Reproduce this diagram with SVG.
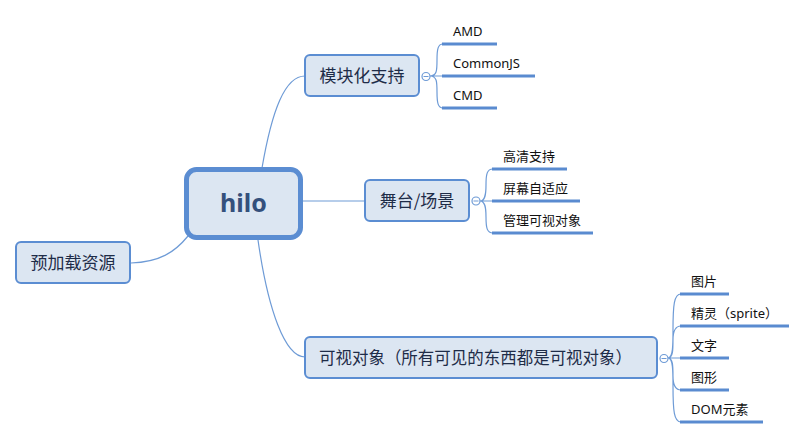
<svg xmlns="http://www.w3.org/2000/svg" width="807" height="439" viewBox="0 0 807 439">
<style>
.node rect{fill:#dce6f2;stroke:#5b8dd2;stroke-width:2}
.root rect{fill:#dce6f2;stroke:#5b8dd2;stroke-width:5}
.nt{font-family:"Noto Sans CJK SC","Noto Sans",sans-serif;font-size:17px;fill:#1e2c48;text-anchor:middle}
.rt{font-family:"Noto Sans","Open Sans",sans-serif;font-size:25px;font-weight:bold;fill:#34507c;text-anchor:middle}
.lt{font-family:"Noto Sans","Noto Sans CJK SC",sans-serif;font-size:13px;fill:#111}
.conn path{fill:none;stroke:#6e9bd6;stroke-width:1.2}
.ul{stroke:#5a8bd0;stroke-width:3}
.tog{fill:#fff;stroke:#6e9bd6;stroke-width:1.2}
</style>
<g id="connectors" class="conn">
<path d="M131 263 C160 262 175 252 188 236"/>
<path d="M262 168 C272 110 285 76 305 76"/>
<path d="M303 201 L365 201"/>
<path d="M258 240 C268 310 285 357 305 357"/>
<path d="M430 76 H442 M430 76 C437 76 437 70 437 60 C437 49 438 44 443 44 M430 76 C437 76 437 82 437 92 C437 103 438 108 443 108"/>
<path d="M480 201 H492 M480 201 C485 201 486 195 486 185 C486 174 487 169 493 169 M480 201 C485 201 486 207 486 217 C486 228 487 233 493 233"/>
<path d="M668 358 H681 M668 358 C673 358 673 345 673 330 C673 305 674 294 681 294 M668 358 C673 358 673 350 673 340 C673 331 675 326 681 326 M668 358 C673 358 673 366 673 376 C673 385 675 390 681 390 M668 358 C673 358 673 371 673 386 C673 411 674 422 681 422"/>
<g>
<line class="ul" x1="442" y1="44" x2="497" y2="44"/>
<line class="ul" x1="442" y1="76" x2="535" y2="76"/>
<line class="ul" x1="442" y1="108" x2="497" y2="108"/>
<line class="ul" x1="492" y1="169" x2="567" y2="169"/>
<line class="ul" x1="492" y1="201" x2="580" y2="201"/>
<line class="ul" x1="492" y1="233" x2="593" y2="233"/>
<line class="ul" x1="680" y1="294" x2="729" y2="294"/>
<line class="ul" x1="680" y1="326" x2="789" y2="326"/>
<line class="ul" x1="680" y1="358" x2="729" y2="358"/>
<line class="ul" x1="680" y1="390" x2="729" y2="390"/>
<line class="ul" x1="680" y1="422" x2="763" y2="422"/>
</g>
<circle class="tog" cx="426" cy="76.5" r="4"/>
<line x1="423.5" y1="76.5" x2="428.5" y2="76.5" stroke="#6e9bd6" stroke-width="1"/>
<circle class="tog" cx="476" cy="201" r="4"/>
<line x1="473.5" y1="201" x2="478.5" y2="201" stroke="#6e9bd6" stroke-width="1"/>
<circle class="tog" cx="664" cy="358.5" r="4"/>
<line x1="661.5" y1="358.5" x2="666.5" y2="358.5" stroke="#6e9bd6" stroke-width="1"/>
</g>
<g id="hilo" class="root">
<rect x="186.5" y="169.5" width="114" height="68" rx="10"/>
<text class="rt" x="243.5" y="212">hilo</text>
</g>
<g id="preload" class="node">
<rect x="16" y="242" width="114" height="41" rx="5"/>
<text class="nt" x="73" y="268.5">预加载资源</text>
</g>
<g id="module" class="node">
<rect x="305" y="55" width="114" height="41" rx="5"/>
<text class="nt" x="362" y="81.5">模块化支持</text>
</g>
<g id="stage" class="node">
<rect x="365" y="180" width="104" height="41" rx="5"/>
<text class="nt" x="417" y="206.5">舞台/场景</text>
</g>
<g id="visual" class="node">
<rect x="305" y="337" width="352" height="41" rx="5"/>
<text class="nt" x="475.5" y="363.5" textLength="313" lengthAdjust="spacingAndGlyphs">可视对象（所有可见的东西都是可视对象）</text>
</g>
<g id="leaves">
<text class="lt" x="453" y="36">AMD</text>
<text class="lt" x="453" y="68">CommonJS</text>
<text class="lt" x="453" y="100">CMD</text>
<text class="lt" x="503" y="161">高清支持</text>
<text class="lt" x="503" y="193">屏幕自适应</text>
<text class="lt" x="503" y="225">管理可视对象</text>
<text class="lt" x="691" y="286">图片</text>
<text class="lt" x="691" y="318">精灵（sprite）</text>
<text class="lt" x="691" y="350">文字</text>
<text class="lt" x="691" y="382">图形</text>
<text class="lt" x="691" y="414">DOM元素</text>
</g>
</svg>
